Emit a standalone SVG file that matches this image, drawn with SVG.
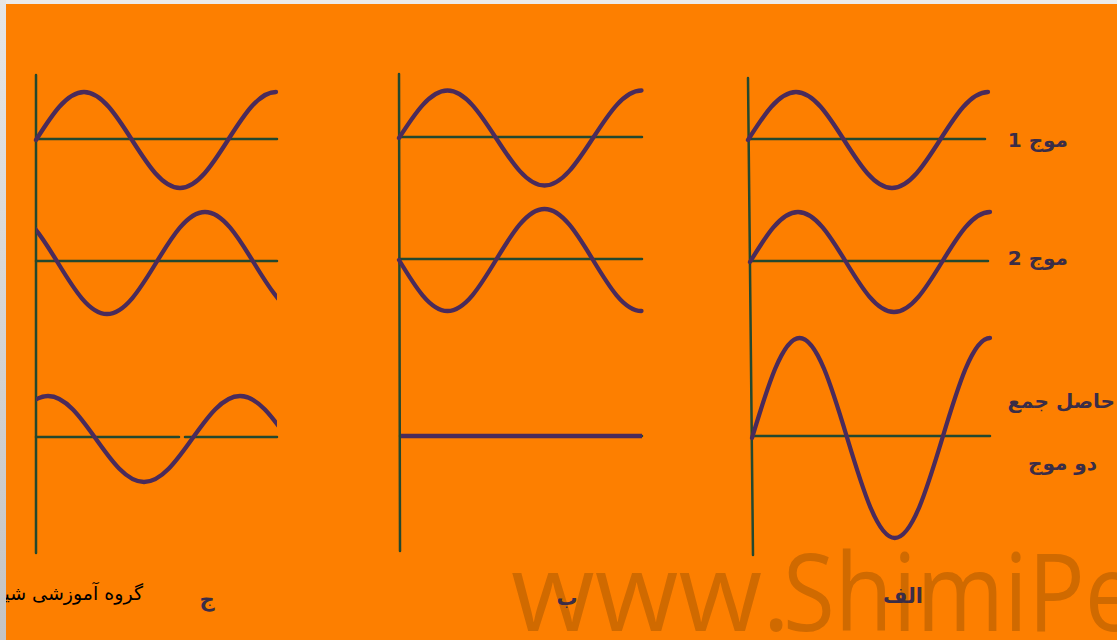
<svg xmlns="http://www.w3.org/2000/svg" width="1117" height="640" viewBox="0 0 1117 640">
<style>
.axis{stroke:#23482f;stroke-width:2.5;fill:none;stroke-linecap:round}
.wave{stroke:#4a2b5b;stroke-width:4.3;fill:none;stroke-linecap:round;stroke-linejoin:round}
.flat{stroke:#4a2b5b;stroke-width:4.5;fill:none}
.lbl{font-family:"DejaVu Sans","Noto Sans",sans-serif;font-weight:bold;fill:#3a2d47;font-size:20px}
.plbl{font-family:"DejaVu Sans","Noto Sans",sans-serif;font-weight:bold;fill:#3a2d47;font-size:21px;text-anchor:middle}
.wm{font-family:"Open Sans","Liberation Sans",sans-serif;font-size:108px;fill:#d06a00}
</style>
<defs>
<clipPath id="clipC"><rect x="36" y="60" width="241" height="500"/></clipPath>
<linearGradient id="lg" x1="0" y1="0" x2="0" y2="1">
<stop offset="0" stop-color="#e6e6e6"/><stop offset="1" stop-color="#c4c4c4"/>
</linearGradient>
</defs>
<rect x="0" y="0" width="1117" height="640" fill="#fd7f00"/>
<g id="watermark">
<text class="wm" x="511" y="631">www.</text>
<text class="wm" transform="translate(783,631) scale(0.875,1)" x="0" y="0">ShimiPedia</text>
</g>

<g id="panel-c">
<line class="axis" x1="36" y1="75" x2="36" y2="553"/>
<line class="axis" x1="36" y1="139" x2="277" y2="139"/>
<line class="axis" x1="36" y1="261" x2="277" y2="261"/>
<line class="axis" x1="36" y1="437" x2="179" y2="437"/>
<line class="axis" x1="185" y1="437" x2="277" y2="437"/>
<path class="wave" d="M36,140 c15.65,-24.59 30.63,-48 48,-48 s32.35,23.41 48,48 s30.63,48 48,48 s32.35,-23.41 48,-48 s30.63,-48 48,-48"/>
<g clip-path="url(#clipC)">
<path class="wave" d="M9,212 c17.73,0 33.02,24.87 49,51 s31.27,51 49,51 s33.02,-24.87 49,-51 s31.27,-51 49,-51 s33.02,24.87 49,51 s31.27,51 49,51"/>
<path class="wave" d="M0,439 c15.65,-22.03 30.63,-43 48,-43 s32.35,20.97 48,43 s30.63,43 48,43 s32.35,-20.97 48,-43 s30.63,-43 48,-43 s32.35,20.97 48,43"/>
</g>
<text class="plbl" x="207" y="606">ج</text>
</g>

<g id="panel-b">
<line class="axis" x1="399" y1="74" x2="400" y2="551"/>
<line class="axis" x1="399" y1="137" x2="642" y2="137"/>
<line class="axis" x1="399" y1="259" x2="642" y2="259"/>
<line class="axis" x1="400" y1="436" x2="642" y2="436"/>
<path class="wave" d="M399,138 c15.82,-24.33 30.95,-47.5 48.5,-47.5 s32.68,23.17 48.5,47.5 s30.95,47.5 48.5,47.5 s32.68,-23.17 48.5,-47.5 s30.95,-47.5 48.5,-47.5"/>
<path class="wave" d="M399,260 c15.82,26.13 30.95,51 48.5,51 s32.68,-24.87 48.5,-51 s30.95,-51 48.5,-51 s32.68,24.87 48.5,51 s30.95,51 48.5,51"/>
<line class="flat" x1="401" y1="436" x2="642" y2="436"/>
<text class="plbl" x="567" y="605">ب</text>
</g>

<g id="panel-a">
<line class="axis" x1="748" y1="78" x2="753" y2="555"/>
<line class="axis" x1="748" y1="139" x2="985" y2="139"/>
<line class="axis" x1="750" y1="261" x2="988" y2="261"/>
<line class="axis" x1="752" y1="436" x2="990" y2="436"/>
<path class="wave" d="M748,140 c15.65,-24.59 30.63,-48 48,-48 s32.35,23.41 48,48 s30.63,48 48,48 s32.35,-23.41 48,-48 s30.63,-48 48,-48"/>
<path class="wave" d="M750,262 c15.65,-25.62 30.63,-50 48,-50 s32.35,24.39 48,50 s30.63,50 48,50 s32.35,-24.39 48,-50 s30.63,-50 48,-50"/>
<path class="wave" d="M752,438 c15.52,-51.23 30.37,-100 47.6,-100 s32.08,48.77 47.6,100 s30.37,100 47.6,100 s32.08,-48.77 47.6,-100 s30.37,-100 47.6,-100"/>
<text class="plbl" x="903" y="603">الف</text>
</g>

<g id="labels">
<text class="lbl" x="1068" y="147" direction="rtl">موج 1</text>
<text class="lbl" x="1068" y="265" direction="rtl">موج 2</text>
<text class="lbl" x="1115" y="408" direction="rtl">حاصل جمع</text>
<text class="lbl" x="1097" y="470" direction="rtl">دو موج</text>
</g>

<g id="footer">
<text x="143" y="600" direction="rtl" font-family="DejaVu Sans, sans-serif" font-size="19" fill="#000">گروه آموزشی شیمی</text>
</g>

<rect x="0" y="0" width="1117" height="4" fill="#ebebeb"/>
<rect x="0" y="0" width="6" height="640" fill="url(#lg)"/>
</svg>
